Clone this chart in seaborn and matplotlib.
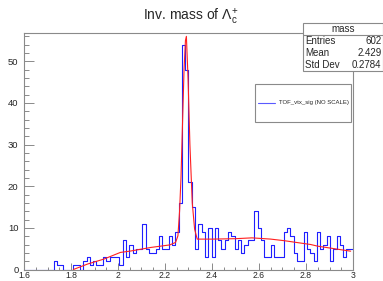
import numpy as np
import pandas as pd
import seaborn as sns
import matplotlib.pyplot as plt
from matplotlib.lines import Line2D
from matplotlib.patches import Rectangle
from matplotlib.ticker import MultipleLocator, FormatStrFormatter

# histogram: 100 bins from 1.6 to 3.0
x_min, x_max, n_bins = 1.6, 3.0, 100
counts = [0, 0, 0, 0, 0, 0, 0, 0, 0, 2,
          1, 1, 0, 0, 0, 1, 1, 0, 2, 3,
          1, 2, 1, 1, 3, 2, 3, 3, 3, 1,
          7, 3, 6, 4, 5, 5, 11, 5, 4, 4,
          5, 8, 5, 5, 8, 6, 9, 16, 54, 48,
          21, 15, 5, 11, 9, 3, 10, 3, 10, 7,
          5, 7, 9, 8, 5, 7, 4, 6, 7, 7,
          14, 10, 7, 3, 3, 6, 3, 3, 3, 9,
          10, 8, 4, 2, 2, 9, 5, 4, 2, 9,
          5, 6, 8, 2, 5, 8, 6, 3, 5, 5]

# fitted curve
fit_x = [1.81, 1.87, 1.94, 2.01, 2.05, 2.14, 2.22, 2.245, 2.255, 2.262, 2.268,
         2.274, 2.281, 2.287, 2.291, 2.298, 2.306, 2.316, 2.326, 2.337, 2.40,
         2.50, 2.57, 2.65, 2.71, 2.82, 2.85, 2.92, 2.99]
fit_y = [0.0, 1.3, 2.5, 4.1, 4.4, 5.3, 5.9, 6.5, 8.1, 14, 22,
         34, 48, 55, 56, 46, 30, 16, 9.7, 7.3, 7.3,
         7.4, 7.6, 7.3, 6.9, 6.0, 5.6, 5.0, 4.4]

stats_labels = ["Entries", "Mean", "Std Dev"]
stats_values = ["602", "2.429", "0.2784"]

sns.set_style("white")
plt.rcParams["font.family"] = ["Liberation Sans", "DejaVu Sans"]
plt.rcParams["mathtext.fontset"] = "custom"
plt.rcParams["mathtext.rm"] = "Liberation Sans"
plt.rcParams["mathtext.it"] = "Liberation Sans"

W, H = 383, 281
fig = plt.figure(figsize=(W / 100, H / 100), dpi=100)
ax = fig.add_axes([24 / W, 1 - 269.5 / H, 329 / W, 236.5 / H])

width = (x_max - x_min) / n_bins
df = pd.DataFrame({"mass": x_min + width * (np.arange(n_bins) + 0.5),
                   "w": counts})
sns.histplot(data=df, x="mass", weights="w", bins=n_bins,
             binrange=(x_min, x_max), element="step", fill=False,
             color="#1f1fff", linewidth=0.8, ax=ax)
sns.lineplot(x=fit_x, y=fit_y, color="#ff1f1f", linewidth=0.8, ax=ax)

ax.set_xlim(x_min, x_max)
ax.set_ylim(0, 56.8)
ax.set_xlabel("")
ax.set_ylabel("")

frame = "#8a8a8a"
for s in ax.spines.values():
    s.set_color(frame)
    s.set_linewidth(0.8)

ax.xaxis.set_major_locator(MultipleLocator(0.2))
ax.xaxis.set_minor_locator(MultipleLocator(0.05))
ax.yaxis.set_major_locator(MultipleLocator(10))
ax.yaxis.set_minor_locator(MultipleLocator(2))
ax.xaxis.set_major_formatter(FormatStrFormatter("%g"))
ax.tick_params(axis="x", which="major", direction="in", length=5, width=0.7,
               color=frame, labelsize=6.2, pad=0.8, bottom=True, top=False)
ax.tick_params(axis="x", which="minor", direction="in", length=2.5, width=0.7,
               color=frame, bottom=True, top=False)
ax.tick_params(axis="y", which="major", direction="in", length=7, width=0.7,
               color=frame, labelsize=6.8, pad=4, left=True, right=False)
ax.tick_params(axis="y", which="minor", direction="in", length=3.5, width=0.7,
               color=frame, left=True, right=False)

fig.text(191 / W, 1 - 21 / H, r"Inv. mass of $\Lambda_{c}^{+}$", ha="center",
         va="baseline", fontsize=10)

# stats box
x0, y0, x1, y1 = 303, 23.5, 382.5, 70.5
fig.add_artist(Rectangle((x0 / W, 1 - y1 / H), (x1 - x0) / W, (y1 - y0) / H,
                         transform=fig.transFigure, facecolor="white",
                         edgecolor=frame, linewidth=0.8))
fig.add_artist(Line2D([x0 / W, x1 / W], [1 - 34.5 / H, 1 - 34.5 / H],
                      transform=fig.transFigure, color=frame, linewidth=0.8))
fig.text((x0 + x1) / 2 / W, 1 - 29 / H, "mass", ha="center", va="center",
         fontsize=7)
for i, (lab, val) in enumerate(zip(stats_labels, stats_values)):
    yy = 1 - (41.5 + 11.8 * i) / H
    fig.text(305 / W, yy, lab, ha="left", va="center", fontsize=7)
    fig.text(381.5 / W, yy, val, ha="right", va="center", fontsize=7)

# legend box
lx0, ly0, lx1, ly1 = 254.5, 84.5, 351, 122
fig.add_artist(Rectangle((lx0 / W, 1 - ly1 / H), (lx1 - lx0) / W, (ly1 - ly0) / H,
                         transform=fig.transFigure, facecolor="white",
                         edgecolor=frame, linewidth=0.8))
fig.add_artist(Line2D([258 / W, 275 / W], [1 - 102.5 / H, 1 - 102.5 / H],
                      transform=fig.transFigure, color="#5a5aff", linewidth=0.8))
fig.text(279 / W, 1 - 102.5 / H, "TOF_vtx_sig (NO SCALE)", ha="left",
         va="center", fontsize=4.3)

fig.savefig("out.png", dpi=100)
plt.close()
